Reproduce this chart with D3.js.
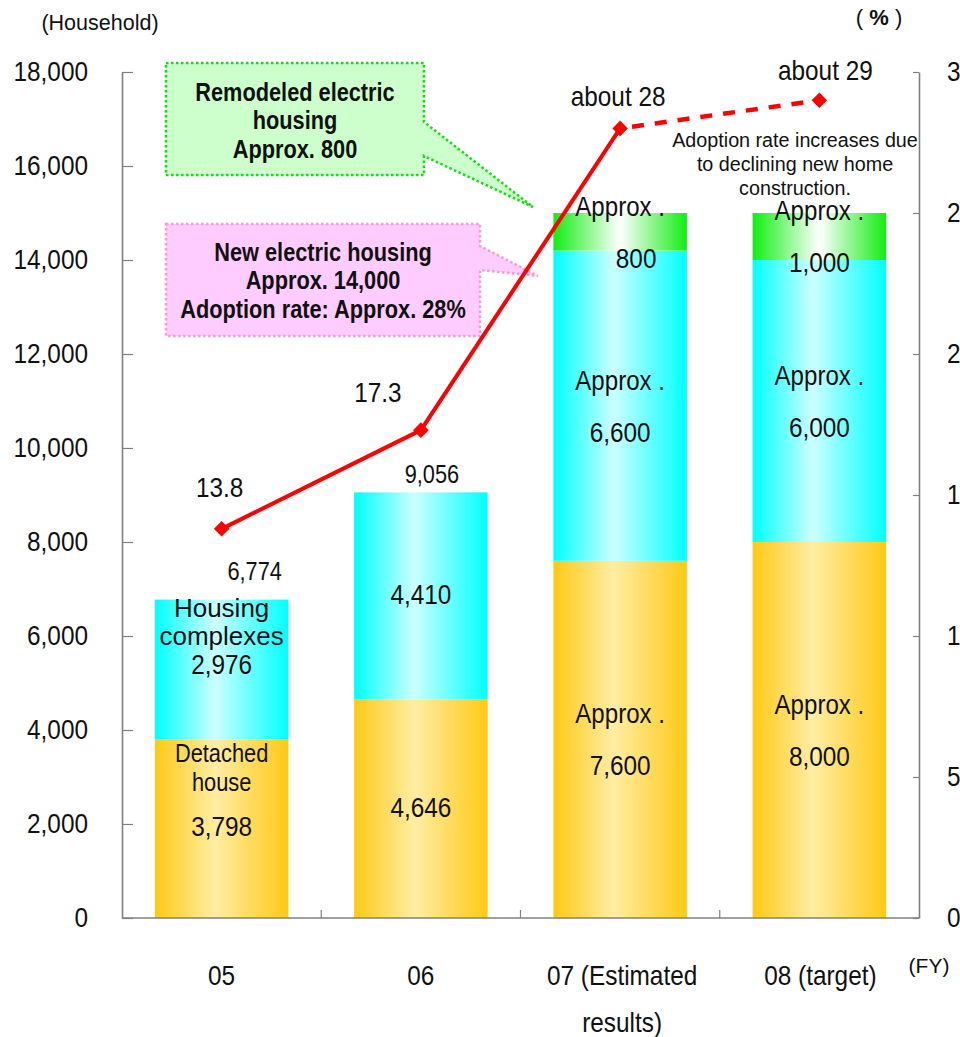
<!DOCTYPE html>
<html>
<head>
<meta charset="utf-8">
<script src="https://cdn.jsdelivr.net/npm/d3@7"></script>
<style>
  html, body { margin: 0; padding: 0; background: #fff; }
  svg { display: block; }
  text { font-family: "Liberation Sans", Arial, sans-serif; }
</style>
</head>
<body>
<svg id="chart" width="960" height="1037"></svg>
<script>
// Electric housing households by fiscal year (stacked) and adoption rate (line)
const years = ["05", "06", "07", "08"];
const yearLabels = [["05"], ["06"], ["07 (Estimated", "results)"], ["08 (target)"]];
const detached = [3798, 4646, 7600, 8000];
const complexes = [2976, 4410, 6600, 6000];
const remodeled = [0, 0, 800, 1000];
const totals = [6774, 9056, 15000, 15000];
const adoption = [13.8, 17.3, 28, 29];
const adoptionLabels = ["13.8", "17.3", "about 28", "about 29"];
const leftTicks = [0, 2000, 4000, 6000, 8000, 10000, 12000, 14000, 16000, 18000];
const rightTicks = [0, 5, 10, 15, 20, 25, 30];

const svg = d3.select("#chart");
const NARROW = 0.87; // horizontal squeeze giving a condensed face

const x = d3.scaleBand().domain(years).range([122, 919]).paddingInner(0.33).paddingOuter(0.165);
const y = d3.scaleLinear().domain([0, 18000]).range([918, 72]);
const yR = d3.scaleLinear().domain([0, 30]).range([918, 72]);

// gradients for the bar fills
const defs = svg.append("defs");
function grad(id, edge, mid, midPos) {
  const g = defs.append("linearGradient").attr("id", id).attr("x1", "0").attr("x2", "1").attr("y1", "0").attr("y2", "0");
  g.append("stop").attr("offset", "0").attr("stop-color", edge);
  g.append("stop").attr("offset", midPos).attr("stop-color", mid);
  g.append("stop").attr("offset", "1").attr("stop-color", edge);
}
grad("gOrange", "#FFC914", "#FFEDA3", "0.45");
grad("gCyan", "#00FFFF", "#CCFFFF", "0.45");
grad("gGreen", "#11EE11", "#FFFFFF", "0.5");

const rows = years.map((yr, i) => ({ year: yr, detached: detached[i], complexes: complexes[i], remodeled: remodeled[i] }));
const keys = ["detached", "complexes", "remodeled"];
const fills = { detached: "url(#gOrange)", complexes: "url(#gCyan)", remodeled: "url(#gGreen)" };
const stacked = d3.stack().keys(keys)(rows);

// text helper: centred at (cx, cy), optionally squeezed horizontally
function txt(cx, cy, t, size, opts = {}) {
  const sx = opts.sx == null ? NARROW : opts.sx;
  return svg.append("text")
    .attr("transform", `translate(${cx},${cy}) scale(${sx},1)`)
    .attr("dy", "0.35em")
    .attr("font-size", size)
    .attr("font-weight", opts.weight || "normal")
    .attr("text-anchor", opts.anchor || "middle")
    .attr("fill", "#111")
    .text(t);
}

// bars
svg.append("g").selectAll("g").data(stacked).join("g")
  .attr("fill", d => fills[d.key])
  .selectAll("rect").data(d => d.filter(s => s[1] > s[0])).join("rect")
  .attr("x", d => x(d.data.year))
  .attr("width", x.bandwidth())
  .attr("y", d => y(d[1]))
  .attr("height", d => y(d[0]) - y(d[1]));

// axes
const axisColor = "#808080";
const gL = svg.append("g").attr("transform", "translate(122,0)")
  .call(d3.axisLeft(y).tickValues(leftTicks).tickFormat(d3.format(",")).tickSizeInner(-11).tickSizeOuter(0).tickPadding(34));
const gR = svg.append("g").attr("transform", "translate(919,0)")
  .call(d3.axisRight(yR).tickValues(rightTicks).tickSizeInner(-6).tickSizeOuter(0).tickPadding(28));
[gL, gR].forEach(g => {
  g.select(".domain").attr("stroke", axisColor).attr("stroke-width", 1.6);
  g.selectAll(".tick line").attr("stroke", axisColor).attr("stroke-width", 1.2);
  g.selectAll(".tick text")
    .attr("font-family", null)
    .attr("font-size", 28).attr("fill", "#111")
    .attr("transform", function () { return `translate(${this.getAttribute("x")},0) scale(${NARROW},1)`; })
    .attr("x", 0);
});

// bottom axis: baseline plus category separators
const gB = svg.append("g");
gB.append("line").attr("x1", 122).attr("x2", 919).attr("y1", y(0)).attr("y2", y(0))
  .attr("stroke", axisColor).attr("stroke-width", 1.6);
gB.selectAll("line.sep").data(years.slice(1)).join("line").attr("class", "sep")
  .attr("x1", d => x(d) - x.step() * x.paddingInner() / 2)
  .attr("x2", d => x(d) - x.step() * x.paddingInner() / 2)
  .attr("y1", y(0)).attr("y2", y(0) - 8)
  .attr("stroke", axisColor).attr("stroke-width", 1.2);

// category labels
const yearShift = [0, 0, 2, 1];
years.forEach((yr, i) => {
  const cx = x(yr) + x.bandwidth() / 2 + yearShift[i];
  yearLabels[i].forEach((t, j) => txt(cx, 975 + j * 47, t, 28));
});

// axis titles
txt(100, 22, "(Household)", 21.5, { sx: 1 });
svg.append("text").attr("x", 879).attr("y", 17).attr("dy", "0.35em").attr("text-anchor", "middle")
  .attr("font-size", 22).attr("fill", "#111")
  .call(t => {
    t.append("tspan").text("( ");
    t.append("tspan").attr("font-weight", "bold").text("%");
    t.append("tspan").text(" )");
  });
txt(929, 966, "(FY)", 21, { sx: 1 });

// callouts
function callout(pathD, fill, stroke, cx, cy0, lines) {
  svg.append("path").attr("d", pathD).attr("fill", fill).attr("stroke", stroke)
    .attr("stroke-width", 2.5).attr("stroke-dasharray", "2.5,2.5");
  lines.forEach((t, j) => txt(cx, cy0 + j * 28.5, t, 25, { weight: "bold" }));
}
callout("M166,63 H424 V122 L533,207 L424,156 V175 H166 Z", "#CCFFCC", "#11DD11", 295, 92,
  ["Remodeled electric", "housing", "Approx. 800"]);
callout("M166,224 H480 V246 L538,276 L480,270 V336 H166 Z", "#FFCCFF", "#FF99CC", 323, 252,
  ["New electric housing", "Approx. 14,000", "Adoption rate: Approx. 28%"]);

// adoption rate line (solid for results, dashed for target)
const cxOf = i => x(years[i]) + x.bandwidth() / 2;
const pts = adoption.map((v, i) => [cxOf(i), yR(v)]);
const line = d3.line();
svg.append("path").attr("d", line(pts.slice(0, 3))).attr("fill", "none")
  .attr("stroke", "#FF0000").attr("stroke-width", 4);
svg.append("path").attr("d", line(pts.slice(2))).attr("fill", "none")
  .attr("stroke", "#FF0000").attr("stroke-width", 4.5).attr("stroke-dasharray", "12,11").attr("stroke-dashoffset", -12);
svg.append("g").selectAll("rect").data(pts).join("rect")
  .attr("x", -5.5).attr("y", -5.5).attr("width", 11).attr("height", 11)
  .attr("transform", d => `translate(${d[0]},${d[1]}) rotate(45)`)
  .attr("fill", "#FF0000");

// adoption rate labels
const rateOffsets = [[-2, -42], [-43, -38], [-2, -32], [6, -30]];
adoptionLabels.forEach((t, i) => txt(pts[i][0] + rateOffsets[i][0], pts[i][1] + rateOffsets[i][1], t, 28));

// note on the target year
["Adoption rate increases due", "to declining new home", "construction."].forEach((t, j) =>
  txt(795, 140 + j * 24, t, 21, { sx: 0.94 }));

// segment labels
const fmt = d3.format(",");
stacked.forEach(layer => {
  layer.forEach((s, i) => {
    if (s[1] <= s[0]) return;
    const cx = x(years[i]) + x.bandwidth() / 2;
    const top = y(s[1]);
    const mid = (y(s[0]) + y(s[1])) / 2;
    const v = s[1] - s[0];
    if (i === 0) {
      if (layer.key === "complexes") {
        txt(cx, top + 8, "Housing", 26, { sx: 1 });
        txt(cx, top + 36, "complexes", 26, { sx: 1 });
        txt(cx, top + 65, fmt(v), 28);
      } else {
        txt(cx, top + 13, "Detached", 26, { sx: 0.84 });
        txt(cx, top + 42, "house", 26, { sx: 0.84 });
        txt(cx, top + 87, fmt(v), 28);
      }
    } else if (i === 1) {
      txt(cx, mid - 2, fmt(v), 28);
    } else {
      txt(cx, mid - 26, "Approx .", 28, { sx: 0.86 });
      txt(cx + (layer.key === "remodeled" && i === 2 ? 16 : 0), mid + 26, fmt(v), 28);
    }
  });
});

// totals above the first two bars
const totalOffsets = [[33, -28], [11, -18]];
totalOffsets.forEach((o, i) => {
  const cx = x(years[i]) + x.bandwidth() / 2;
  txt(cx + o[0], y(totals[i]) + o[1], fmt(totals[i]), 25);
});
</script>
</body>
</html>
